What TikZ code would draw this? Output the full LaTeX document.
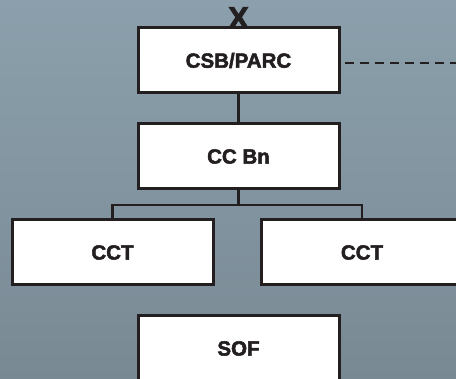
\documentclass[tikz,border=0pt]{standalone}
\usepackage{fontspec}
\setmainfont{Liberation Sans}
\newfontfamily\heavyfont[FakeBold=2.5]{Liberation Sans Bold}
\usetikzlibrary{positioning}
\definecolor{bgtop}{RGB}{139,160,172}
\definecolor{bgbot}{RGB}{121,137,148}
\definecolor{ink}{RGB}{35,31,32}

\begin{document}
\begin{tikzpicture}[
  x=1pt,y=1pt,
  box/.style={draw=ink,fill=white,line width=3pt,minimum width=201pt,minimum height=65pt,
    inner sep=0pt,font=\heavyfont\fontsize{20.5}{23}\selectfont,text=ink},
  link/.style={draw=ink,line width=2.6pt},
  every node/.style={font=\heavyfont}
]
\useasboundingbox (0,0) rectangle (456,379);
\clip (0,0) rectangle (456,379);
\shade[top color=bgtop,bottom color=bgbot] (0,0) rectangle (456,379);
\node[box] (csb) at (238.5,318.5) {CSB/PARC};
\node[box] (ccbn) at (238.5,222.5) {CC Bn};
\node[box] (cctl) at (112.5,126.5) {CCT};
\node[box] (cctr) at (362,126.5) {CCT};
\node[box] (sof) at (238.5,30.5) {SOF};
\node[anchor=base,inner sep=0pt,text=ink,font=\heavyfont\fontsize{31}{34}\selectfont,yshift=-2pt] (x) at (csb.north) {X};
\coordinate (bus) at (238.5,174);
\coordinate (dashend) at (460,316);
\draw[link] (csb) -- (ccbn);
\draw[link] (ccbn) -- (bus);
\draw[link] (cctl.north) |- (bus) -| (cctr.north);
\draw[link,dash pattern=on 9pt off 6pt] (csb.east) ++(4pt,-2.5pt) -- (dashend);
\end{tikzpicture}
\end{document}
